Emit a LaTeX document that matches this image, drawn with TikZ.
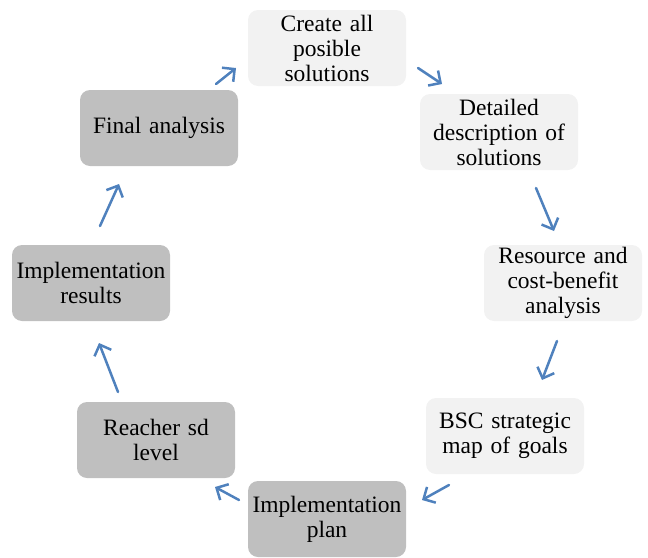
\documentclass[tikz,border=0pt]{standalone}
\usepackage{fontspec}
\setmainfont[WordSpace=0.85]{Liberation Serif}
\usetikzlibrary{arrows.meta}
\definecolor{lightbox}{HTML}{F2F2F2}
\definecolor{darkbox}{HTML}{BFBFBF}
\definecolor{arrowblue}{HTML}{4F81BD}
\tikzset{
  stagebox/.style={rounded corners=10pt, minimum width=158pt, minimum height=76pt,
    text width=157pt, align=center, inner sep=0pt,
    font=\fontsize{23.5}{25}\selectfont},
  lightstage/.style={stagebox, fill=lightbox},
  darkstage/.style={stagebox, fill=darkbox},
  flow/.style={draw=arrowblue, line width=2.5pt, line cap=round,
    -{Straight Barb[length=9pt, width=18pt, line width=2.5pt]}}
}
\begin{document}
\begin{tikzpicture}[x=1pt, y=-1pt]
\useasboundingbox (0,0) rectangle (648,557);
\node[lightstage] (n1) at (327,48) {Create all\\posible\\solutions};
\node[lightstage] (n2) at (499,132) {Detailed\\description of\\solutions};
\node[lightstage] (n3) at (563,283) {Resource and\\cost-benefit\\analysis};
\node[lightstage] (n4) at (505,436) {BSC strategic\\map of goals};
\node[darkstage] (n5) at (327,519) {Implementation\\plan};
\node[darkstage] (n6) at (156,440) {Reacher sd\\level};
\node[darkstage] (n7) at (91,283) {Implementation\\results};
\node[darkstage] (n8) at (159,128) {Final analysis};
\coordinate (a1s) at (418,68);  \coordinate (a1e) at (442,84);
\coordinate (a2s) at (536,188); \coordinate (a2e) at (554,231);
\coordinate (a3s) at (557,341); \coordinate (a3e) at (542,380);
\coordinate (a4s) at (449,485); \coordinate (a4e) at (422,500);
\coordinate (a5s) at (239,500); \coordinate (a5e) at (215,487);
\coordinate (a6s) at (118,392); \coordinate (a6e) at (99,343);
\coordinate (a7s) at (100,226); \coordinate (a7e) at (119,184);
\coordinate (a8s) at (216,84);  \coordinate (a8e) at (236,68);
\draw[flow] (a1s) -- (a1e);
\draw[flow] (a2s) -- (a2e);
\draw[flow] (a3s) -- (a3e);
\draw[flow] (a4s) -- (a4e);
\draw[flow] (a5s) -- (a5e);
\draw[flow] (a6s) -- (a6e);
\draw[flow] (a7s) -- (a7e);
\draw[flow] (a8s) -- (a8e);
\end{tikzpicture}
\end{document}
